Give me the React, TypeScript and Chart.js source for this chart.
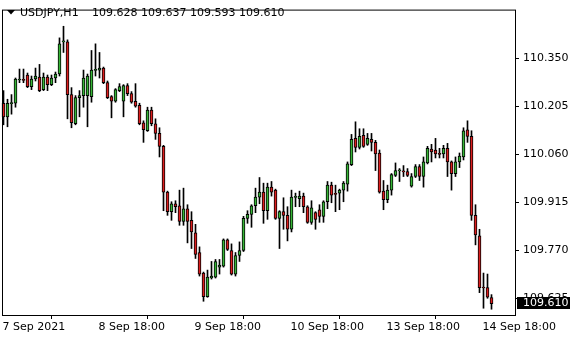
import React, { useEffect, useRef } from 'react';
import { Chart, registerables } from 'chart.js';

Chart.register(...registerables);

const symbolLabel = 'USDJPY,H1';

const openP = [
  110.214, 110.173, 110.213, 110.214, 110.284, 110.285, 110.299, 110.264, 110.287, 110.293,
  110.255, 110.293, 110.270, 110.290, 110.302, 110.399, 110.399, 110.240, 110.152, 110.231,
  110.237, 110.237, 110.234, 110.313, 110.314, 110.320, 110.276, 110.234, 110.220, 110.252,
  110.220, 110.267, 110.243, 110.220, 110.208, 110.155, 110.131, 110.193, 110.152, 110.123,
  110.084, 109.946, 109.887, 109.911, 109.905, 109.858, 109.896, 109.861, 109.823, 109.764,
  109.702, 109.631, 109.687, 109.690, 109.720, 109.723, 109.802, 109.770, 109.699, 109.755,
  109.770, 109.867, 109.879, 109.905, 109.931, 109.946, 109.890, 109.961, 109.952, 109.867,
  109.887, 109.876, 109.834, 109.930, 109.926, 109.934, 109.902, 109.855, 109.884, 109.893,
  109.873, 109.917, 109.967, 109.941, 109.943, 109.952, 109.970, 110.029, 110.108, 110.081,
  110.117, 110.090, 110.105, 110.096, 110.064, 109.949, 109.923, 109.952, 109.996, 110.010,
  110.009, 110.008, 109.964, 109.993, 110.023, 109.993, 110.034, 110.076, 110.073, 110.062,
  110.061, 110.078, 110.037, 110.002, 110.037, 110.052, 110.134, 110.114, 109.876, 109.814,
  109.659, 109.658, 109.628,
];

const highP = [
  110.252, 110.226, 110.240, 110.290, 110.317, 110.317, 110.305, 110.296, 110.320, 110.331,
  110.305, 110.299, 110.299, 110.308, 110.411, 110.446, 110.405, 110.261, 110.237, 110.252,
  110.314, 110.302, 110.373, 110.393, 110.367, 110.323, 110.281, 110.237, 110.258, 110.273,
  110.270, 110.273, 110.249, 110.273, 110.214, 110.161, 110.202, 110.202, 110.167, 110.140,
  110.087, 109.949, 109.917, 109.920, 109.952, 109.958, 109.908, 109.887, 109.849, 109.781,
  109.705, 109.711, 109.737, 109.743, 109.743, 109.805, 109.805, 109.790, 109.764, 109.796,
  109.873, 109.890, 109.908, 109.958, 109.990, 109.973, 109.973, 109.978, 109.955, 109.890,
  109.929, 109.902, 109.952, 109.943, 109.949, 109.943, 109.905, 109.920, 109.887, 109.908,
  109.920, 109.978, 109.976, 109.967, 109.955, 109.978, 110.037, 110.120, 110.158, 110.137,
  110.137, 110.123, 110.123, 110.102, 110.073, 109.981, 109.967, 110.002, 110.034, 110.017,
  110.026, 110.017, 110.002, 110.029, 110.029, 110.052, 110.084, 110.090, 110.108, 110.078,
  110.087, 110.093, 110.040, 110.052, 110.064, 110.140, 110.161, 110.131, 109.908, 109.834,
  109.702, 109.699, 109.637,
];

const lowP = [
  110.149, 110.143, 110.181, 110.202, 110.276, 110.276, 110.261, 110.255, 110.281, 110.249,
  110.252, 110.252, 110.267, 110.276, 110.296, 110.367, 110.167, 110.140, 110.149, 110.173,
  110.202, 110.143, 110.217, 110.296, 110.290, 110.273, 110.228, 110.170, 110.217, 110.249,
  110.173, 110.237, 110.214, 110.202, 110.149, 110.096, 110.129, 110.146, 110.105, 110.052,
  109.890, 109.876, 109.861, 109.884, 109.846, 109.846, 109.793, 109.776, 109.746, 109.693,
  109.617, 109.629, 109.684, 109.687, 109.699, 109.720, 109.770, 109.696, 109.693, 109.737,
  109.767, 109.852, 109.840, 109.884, 109.911, 109.852, 109.864, 109.934, 109.864, 109.776,
  109.834, 109.799, 109.826, 109.902, 109.902, 109.884, 109.852, 109.849, 109.834, 109.855,
  109.855, 109.896, 109.914, 109.887, 109.893, 109.917, 109.949, 110.026, 110.067, 110.076,
  110.081, 110.087, 110.070, 110.011, 109.943, 109.893, 109.914, 109.937, 109.993, 109.978,
  109.993, 109.993, 109.961, 109.990, 109.981, 109.961, 110.031, 110.037, 110.049, 110.049,
  110.049, 109.993, 109.952, 109.993, 110.020, 110.043, 110.096, 109.861, 109.787, 109.643,
  109.596, 109.626, 109.593,
];

const closeP = [
  110.173, 110.214, 110.214, 110.287, 110.287, 110.283, 110.264, 110.287, 110.296, 110.252,
  110.293, 110.270, 110.290, 110.302, 110.393, 110.402, 110.240, 110.155, 110.231, 110.237,
  110.290, 110.296, 110.314, 110.314, 110.320, 110.276, 110.231, 110.220, 110.255, 110.264,
  110.267, 110.243, 110.217, 110.205, 110.152, 110.134, 110.193, 110.152, 110.123, 110.084,
  109.946, 109.887, 109.911, 109.902, 109.858, 109.896, 109.858, 109.826, 109.758, 109.699,
  109.631, 109.690, 109.693, 109.737, 109.726, 109.802, 109.773, 109.699, 109.755, 109.770,
  109.867, 109.879, 109.905, 109.931, 109.946, 109.890, 109.961, 109.946, 109.867, 109.887,
  109.876, 109.834, 109.931, 109.933, 109.934, 109.902, 109.855, 109.899, 109.864, 109.873,
  109.917, 109.967, 109.937, 109.939, 109.952, 109.973, 110.031, 110.105, 110.081, 110.114,
  110.084, 110.108, 110.096, 110.061, 109.946, 109.923, 109.952, 109.999, 110.011, 110.011,
  110.007, 109.996, 109.993, 110.023, 109.993, 110.037, 110.078, 110.067, 110.061, 110.060,
  110.078, 110.037, 110.002, 110.037, 110.055, 110.131, 110.114, 109.876, 109.817, 109.658,
  109.657, 109.629, 109.610,
];

const xTickIndex = [0, 24, 48, 72, 96, 120];
const xTickLabels = ['7 Sep 2021', '8 Sep 18:00', '9 Sep 18:00', '10 Sep 18:00', '13 Sep 18:00', '14 Sep 18:00'];
const yTicks = [110.350, 110.205, 110.060, 109.915, 109.770, 109.625];

const BULL = '#36b536';
const BEAR = '#dc1e1e';
const FONT = "'DejaVu Sans', 'Noto Sans', sans-serif";

const overlayPlugin = {
  id: 'mtOverlay',
  afterDraw(chart: any) {
    const { ctx, chartArea: a } = chart;
    ctx.save();
    ctx.strokeStyle = '#000';
    ctx.lineWidth = 1;
    ctx.strokeRect(a.left - 0.5, a.top - 0.5, a.right - a.left + 1, a.bottom - a.top + 1);

    // title triangle
    ctx.fillStyle = '#000';
    ctx.beginPath();
    ctx.moveTo(7, 10);
    ctx.lineTo(15, 10);
    ctx.lineTo(11, 14.5);
    ctx.closePath();
    ctx.fill();

    const n = closeP.length - 1;
    ctx.font = `11px ${FONT}`;
    ctx.textBaseline = 'middle';
    ctx.textAlign = 'left';
    ctx.fillText(symbolLabel, 20, 13);
    const vals = [openP[n], highP[n], lowP[n], closeP[n]].map((v) => v.toFixed(3)).join(' ');
    ctx.fillText(vals, 92, 13);

    // current price box
    const py = chart.scales.y.getPixelForValue(closeP[n]);
    const top = Math.round(py - 7);
    ctx.fillStyle = '#000';
    ctx.fillRect(517, top, 53, 12);
    ctx.fillStyle = '#fff';
    ctx.fillText(closeP[n].toFixed(3), 523, top + 6);
    ctx.restore();
  },
};

export default function App() {
  const ref = useRef<HTMLCanvasElement | null>(null);

  useEffect(() => {
    document.body.style.margin = '0';
    const canvas = ref.current;
    if (!canvas) return;
    Chart.defaults.font.family = FONT;
    Chart.defaults.font.size = 11;
    Chart.defaults.color = '#000';

    const idx = closeP.map((_, i) => i);
    const bodies = idx.map((i) => ({ x: i, y: [openP[i], closeP[i]] }));
    const wicks = idx.map((i) => ({ x: i, y: [lowP[i], highP[i]] }));
    const colors = idx.map((i) => (closeP[i] >= openP[i] ? BULL : BEAR));

    const chart = new Chart(canvas, {
      type: 'bar',
      data: {
        datasets: [
          {
            data: bodies as any,
            backgroundColor: colors,
            borderColor: '#000',
            borderWidth: 1,
            borderSkipped: false,
            barThickness: 3,
            minBarLength: 1,
            grouped: false,
            order: 0,
            clip: false as any,
          } as any,
          {
            data: wicks as any,
            backgroundColor: '#000',
            borderWidth: 0,
            barThickness: 1,
            grouped: false,
            order: 1,
            clip: false as any,
          } as any,
        ],
      },
      plugins: [overlayPlugin],
      options: {
        animation: false,
        responsive: false,
        devicePixelRatio: 1,
        layout: { padding: { left: 3, top: 3, right: 0, bottom: 0 } },
        plugins: { legend: { display: false }, tooltip: { enabled: false }, title: { display: false } },
        scales: {
          x: {
            type: 'linear',
            min: -0.125,
            max: 127.875,
            offset: false,
            grid: { display: true, drawOnChartArea: false, drawTicks: true, tickLength: 4, color: '#000' },
            border: { display: false },
            ticks: {
              autoSkip: false,
              maxRotation: 0,
              minRotation: 0,
              align: 'start',
              labelOffset: -1,
              padding: 2,
              font: { size: 11, family: FONT },
              color: '#000',
              callback: (v: any) => {
                const k = xTickIndex.indexOf(Math.round(Number(v)));
                return k >= 0 ? xTickLabels[k] : '';
              },
            },
            afterBuildTicks: (scale: any) => {
              scale.ticks = xTickIndex.map((v) => ({ value: v }));
            },
            afterFit: (scale: any) => {
              scale.height = 25;
            },
          } as any,
          y: {
            type: 'linear',
            position: 'right',
            min: 109.5756,
            max: 110.4932,
            grid: { display: true, drawOnChartArea: false, drawTicks: true, tickLength: 4, color: '#000' },
            border: { display: false },
            ticks: {
              autoSkip: false,
              padding: 4,
              font: { size: 11, family: FONT },
              color: '#000',
              callback: (v: any) => Number(v).toFixed(3),
            },
            afterBuildTicks: (scale: any) => {
              scale.ticks = yTicks.map((v) => ({ value: v }));
            },
            afterFit: (scale: any) => {
              scale.width = 65;
            },
          } as any,
        },
      },
    });
    return () => chart.destroy();
  }, []);

  return (
    <div style={{ width: 580, height: 340, background: '#fff' }}>
      <canvas ref={ref} width={580} height={340} style={{ display: 'block', width: 580, height: 340 }} />
    </div>
  );
}
